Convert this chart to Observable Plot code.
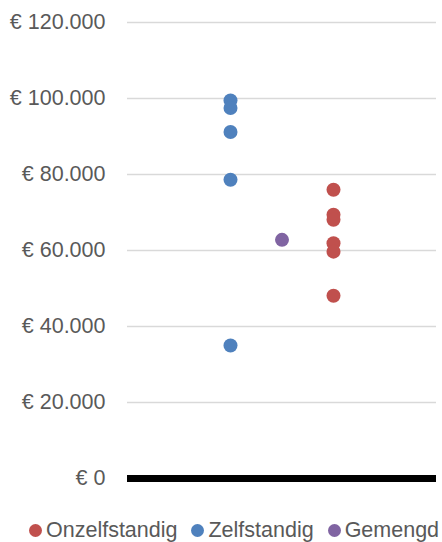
<!DOCTYPE html>
<html>
<head>
<meta charset="utf-8">
<script src="https://cdn.jsdelivr.net/npm/d3@7"></script>
<script src="https://cdn.jsdelivr.net/npm/@observablehq/plot@0.6"></script>
<style>
  html, body { margin: 0; padding: 0; background: #fff; }
  #wrap { position: relative; width: 442px; height: 542px; font-family: "Liberation Sans", Arial, sans-serif; }
  #legend { position: absolute; left: 29px; top: 516px; display: flex; align-items: center; color: #595959; font-size: 21.5px; line-height: 28px; white-space: nowrap; }
  .item { display: flex; align-items: center; margin-right: 14px; }
  .dot { width: 13px; height: 13px; border-radius: 50%; margin-right: 4px; }
</style>
</head>
<body>
<div id="wrap"></div>
<script>
// Series (legend order) and their x position in the scatter
const seriesNames = ["Onzelfstandig", "Zelfstandig", "Gemengd"];
const seriesX = [4, 2, 3];
const seriesColors = ["#C0504D", "#4F81BD", "#8064A2"];

// Values (euro)
const onzelfstandig = [76000, 69400, 68100, 61900, 59700, 48100];
const zelfstandig = [99500, 97500, 91200, 78600, 35000];
const gemengd = [62800];

// Axis ticks
const yTicks = [0, 20000, 40000, 60000, 80000, 100000, 120000];

const seriesValues = [onzelfstandig, zelfstandig, gemengd];
const data = seriesNames.flatMap((name, i) =>
  seriesValues[i].map(v => ({series: name, x: seriesX[i], value: v})));

const fmt = d => "€ " + d3.format(",")(d).replace(/,/g, ".");

const chart = Plot.plot({
  width: 442,
  height: 500,
  marginLeft: 127,
  marginRight: 6,
  marginTop: 22,
  marginBottom: 22,
  style: {fontFamily: "'Liberation Sans', Arial, sans-serif", background: "#fff"},
  x: {domain: [0, 6], axis: null},
  y: {domain: [0, 120000], axis: null},
  color: {domain: seriesNames, range: seriesColors},
  marks: [
    Plot.ruleY(yTicks.filter(d => d > 0), {stroke: "#D9D9D9", strokeWidth: 1.5}),
    Plot.ruleY([0], {stroke: "#000", strokeWidth: 7}),
    Plot.axisY({ticks: yTicks, tickFormat: fmt, tickSize: 0, tickPadding: 22, fontSize: 21.5, fill: "#595959", label: null}),
    Plot.dot(data, {x: "x", y: "value", fill: "series", r: 7, stroke: "none"})
  ]
});
document.getElementById("wrap").appendChild(chart);

const legend = document.createElement("div");
legend.id = "legend";
seriesNames.forEach((name, i) => {
  const item = document.createElement("div");
  item.className = "item";
  const dot = document.createElement("span");
  dot.className = "dot";
  dot.style.background = seriesColors[i];
  const label = document.createElement("span");
  label.textContent = name;
  item.appendChild(dot);
  item.appendChild(label);
  legend.appendChild(item);
});
document.getElementById("wrap").appendChild(legend);
</script>
</body>
</html>
